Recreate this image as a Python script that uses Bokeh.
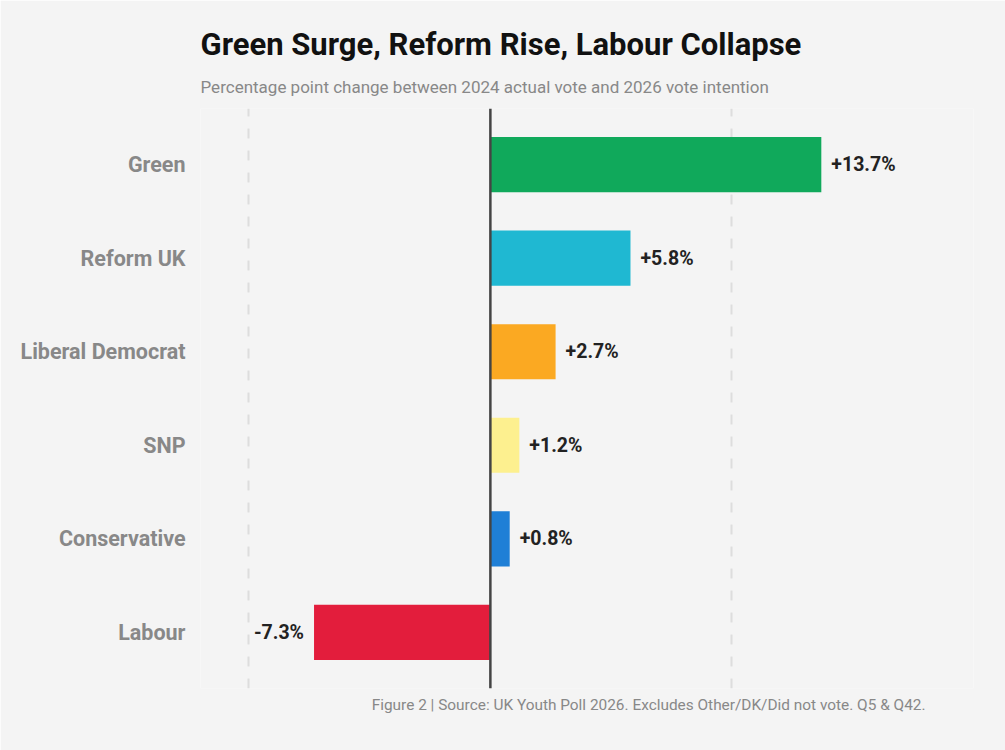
from bokeh.plotting import figure
from bokeh.models import FactorRange, Span, Title, FixedTicker, Grid, ColumnDataSource
from bokeh.core.properties import value
from bokeh.embed import file_html
from bokeh.resources import INLINE

parties = ["Green", "Reform UK", "Liberal Democrat", "SNP", "Conservative", "Labour"]
changes = [13.7, 5.8, 2.7, 1.2, 0.8, -7.3]
colors = ["#10a95b", "#1fb8d2", "#fba922", "#fdf08f", "#1f7fd6", "#e31d3c"]
grid_ticks = [-10, 10]

title_text = "Green Surge, Reform Rise, Labour Collapse"
subtitle_text = "Percentage point change between 2024 actual vote and 2026 vote intention"
footer_text = "Figure 2 | Source: UK Youth Poll 2026. Excludes Other/DK/Did not vote. Q5 & Q42."

FONT = "Roboto"
BG = "#f4f4f4"

labels = [f"{v:+.1f}%" for v in changes]
src = ColumnDataSource(dict(
    party=parties, change=changes, color=colors, label=labels,
    align=["left" if v >= 0 else "right" for v in changes],
    xoff=[10 if v >= 0 else -10 for v in changes],
))

p = figure(
    width=1005, height=750,
    y_range=FactorRange(factors=list(reversed(parties)), range_padding=0.1, range_padding_units="absolute"),
    x_range=(-12, 20),
    output_backend="svg", toolbar_location=None,
    min_border_left=200, min_border_right=32, min_border_top=108, min_border_bottom=62,
    background_fill_color=BG, border_fill_color=BG, outline_line_color=None,
)

p.add_layout(Title(text=subtitle_text, text_font=FONT, text_font_size="17px",
                   text_font_style="normal", text_color="#888888", align="left",
                   offset=0, standoff=23), "above")
p.add_layout(Title(text=title_text, text_font=FONT, text_font_size="31px",
                   text_font_style="bold", text_color="#111111", align="left",
                   offset=0, standoff=1), "above")
p.add_layout(Title(text=footer_text, text_font=FONT, text_font_size="15.4px",
                   text_font_style="normal", text_color="#888888", align="right",
                   offset=48, standoff=10), "below")

p.xgrid.visible = False
p.ygrid.visible = False
p.add_layout(Grid(dimension=0, ticker=FixedTicker(ticks=grid_ticks),
                  grid_line_color="#dddddd", grid_line_width=2, grid_line_dash="10 12"))

p.hbar(y="party", right="change", left=0, height=0.59, color="color", line_color=None, source=src)

p.add_layout(Span(location=0, dimension="height", line_color="#444444", line_width=2.5))

p.text(x="change", y="party", text="label", source=src, text_align="align", x_offset="xoff",
       text_baseline="middle", text_font=value(FONT), text_font_style="bold",
       text_font_size="19.5px", text_color="#222222")

p.xaxis.visible = False
ya = p.yaxis[0]
ya.axis_line_color = None
ya.major_tick_line_color = None
ya.minor_tick_line_color = None
ya.major_label_standoff = 9
ya.major_label_text_font = FONT
ya.major_label_text_font_style = "bold"
ya.major_label_text_font_size = "21.5px"
ya.major_label_text_color = "#888888"

open("out.html", "w").write(file_html(p, INLINE))
